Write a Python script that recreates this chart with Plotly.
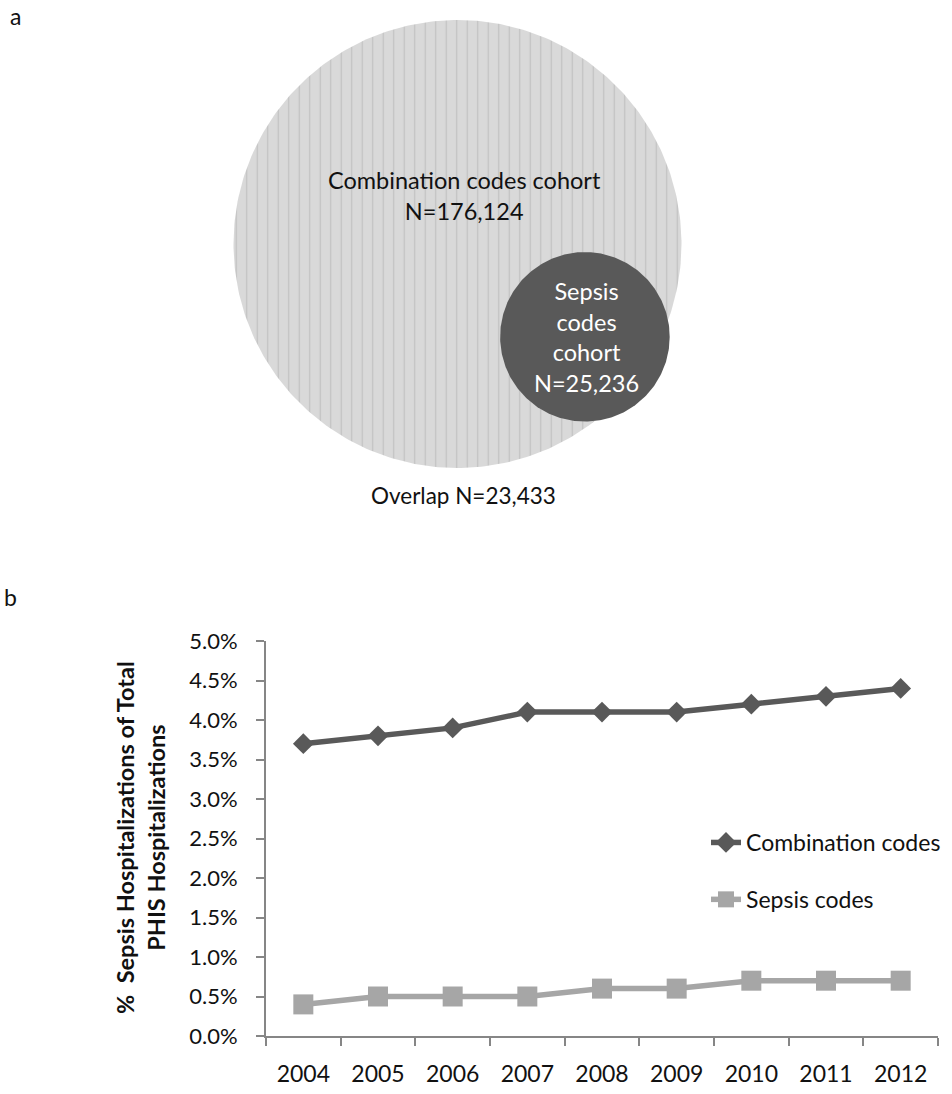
import numpy as np
import plotly.graph_objects as go

# ---- data -------------------------------------------------------------
years = ["2004", "2005", "2006", "2007", "2008", "2009", "2010", "2011", "2012"]
combination_pct = [3.7, 3.8, 3.9, 4.1, 4.1, 4.1, 4.2, 4.3, 4.4]
sepsis_pct = [0.4, 0.5, 0.5, 0.5, 0.6, 0.6, 0.7, 0.7, 0.7]

combination_n = 176124
sepsis_n = 25236
overlap_n = 23433

FONT = "Lato"
DARK = "#595959"
LIGHT = "#a6a6a6"
AXIS = "#868686"
INK = "#111111"
W, H = 952, 1094

# ---- Venn geometry (page-pixel coordinates) ---------------------------
big_c = np.array([457.5, 244.0])
big_r = 224.0
small_r = big_r * np.sqrt(sepsis_n / combination_n)
direction = np.array([129.0, 94.0])
direction /= np.linalg.norm(direction)


def lens_area(d, r1, r2):
    if d >= r1 + r2:
        return 0.0
    if d <= abs(r1 - r2):
        return np.pi * min(r1, r2) ** 2
    a1 = r1 ** 2 * np.arccos((d * d + r1 * r1 - r2 * r2) / (2 * d * r1))
    a2 = r2 ** 2 * np.arccos((d * d + r2 * r2 - r1 * r1) / (2 * d * r2))
    k = 0.5 * np.sqrt((-d + r1 + r2) * (d + r1 - r2) * (d - r1 + r2) * (d + r1 + r2))
    return a1 + a2 - k


# centre distance so that the shared area is proportional to the overlap count
target = overlap_n / combination_n * np.pi * big_r ** 2
lo, hi = big_r - small_r, big_r + small_r
for _ in range(80):
    mid = 0.5 * (lo + hi)
    if lens_area(mid, big_r, small_r) > target:
        lo = mid
    else:
        hi = mid
small_c = big_c + direction * 0.5 * (lo + hi)

theta = np.linspace(0, 2 * np.pi, 361)


def circle(c, r):
    return c[0] + r * np.cos(theta), c[1] + r * np.sin(theta)


fig = go.Figure()

# ---- panel b: line chart ----------------------------------------------
fig.add_trace(go.Scatter(
    x=years, y=combination_pct, name="Combination codes",
    mode="lines+markers", legendgroup="a",
    line=dict(color=DARK, width=5.5),
    marker=dict(symbol="diamond", size=16, color=DARK),
    xaxis="x", yaxis="y",
))
fig.add_trace(go.Scatter(
    x=years, y=sepsis_pct, name="Sepsis codes",
    mode="lines+markers", legendgroup="b",
    line=dict(color=LIGHT, width=5.5),
    marker=dict(symbol="square", size=20, color=LIGHT),
    xaxis="x", yaxis="y",
))

# ---- panel a: Venn circles ----------------------------------------------
bx, by = circle(big_c, big_r)
fig.add_trace(go.Scatter(
    x=bx, y=by, mode="lines", fill="toself", showlegend=False,
    line=dict(width=0, color="rgba(0,0,0,0)"),
    fillcolor="#d9d9d9",
    fillpattern=dict(shape="|", size=10.5, solidity=0.12,
                     bgcolor="#d9d9d9", fgcolor="#a9a9a9"),
    hoverinfo="skip", xaxis="x2", yaxis="y2",
))
sx, sy = circle(small_c, small_r)
fig.add_trace(go.Scatter(
    x=sx, y=sy, mode="lines", fill="toself", showlegend=False,
    line=dict(width=0, color="rgba(0,0,0,0)"),
    fillcolor=DARK, hoverinfo="skip", xaxis="x2", yaxis="y2",
))

txt = dict(family=FONT, size=23.5, color=INK)
annotations = [
    dict(x=464, y=195, xref="x2", yref="y2", showarrow=False,
         text=f"Combination codes cohort<br>N={combination_n:,}", font=txt),
    dict(x=small_c[0] + 2, y=small_c[1], xref="x2", yref="y2", showarrow=False,
         text=f"Sepsis<br>codes<br>cohort<br>N={sepsis_n:,}",
         font=dict(family=FONT, size=23.5, color="white")),
    dict(x=463, y=495, xref="x2", yref="y2", showarrow=False,
         text=f"Overlap N={overlap_n:,}", font=dict(family=FONT, size=22.5, color=INK)),
    dict(x=15, y=16, xref="x2", yref="y2", showarrow=False, text="a",
         font=dict(family=FONT, size=23, color=INK)),
    dict(x=10, y=597, xref="x2", yref="y2", showarrow=False, text="b",
         font=dict(family=FONT, size=23, color=INK)),
    dict(x=140, y=838, xref="x2", yref="y2", showarrow=False, textangle=-90,
         text="<b>%  Sepsis Hospitalizations of Total<br>PHIS Hospitalizations</b>",
         font=txt),
]

fig.update_layout(
    width=W, height=H,
    margin=dict(l=0, r=0, t=0, b=0),
    paper_bgcolor="white", plot_bgcolor="rgba(0,0,0,0)",
    font=dict(family=FONT, size=23, color=INK),
    xaxis=dict(
        domain=[266 / W, 938 / W], anchor="y", type="category",
        range=[-0.5, 8.5], tickson="boundaries",
        showline=True, linecolor=AXIS, linewidth=2,
        ticks="outside", ticklen=8, tickwidth=2, tickcolor=AXIS,
        showgrid=False, zeroline=False, automargin=False,
        ticklabelstandoff=16,
        tickfont=dict(family=FONT, size=23, color=INK),
    ),
    yaxis=dict(
        domain=[1 - 1036 / H, 1 - 641 / H], anchor="x",
        range=[0, 5], dtick=0.5, tickformat=".1f", ticksuffix="%",
        showline=True, linecolor=AXIS, linewidth=2,
        ticks="outside", ticklen=8, tickwidth=2, tickcolor=AXIS,
        showgrid=False, zeroline=False, automargin=False,
        ticklabelstandoff=14,
        tickfont=dict(family=FONT, size=22, color=INK),
    ),
    xaxis2=dict(domain=[0, 1], range=[0, W], anchor="y2", visible=False,
                fixedrange=True),
    yaxis2=dict(domain=[0, 1], range=[H, 0], anchor="x2", visible=False,
                fixedrange=True),
    legend=dict(
        x=706 / W, y=1 - 821 / H, xanchor="left", yanchor="top",
        bgcolor="rgba(0,0,0,0)", tracegroupgap=24,
        font=dict(family=FONT, size=23, color=INK),
        itemwidth=30,
    ),
    annotations=annotations,
    showlegend=True,
)

fig.write_html("out.html")
